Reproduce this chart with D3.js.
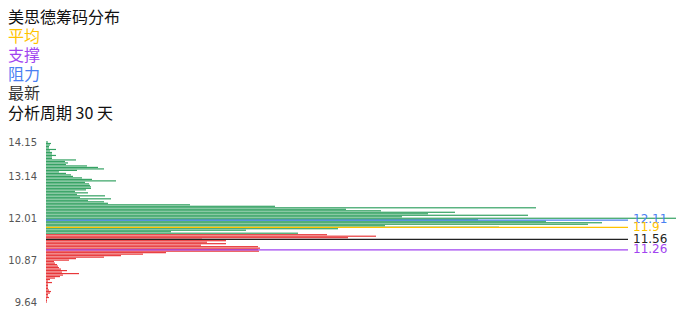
<!DOCTYPE html>
<html>
<head>
<meta charset="utf-8">
<script src="https://cdn.jsdelivr.net/npm/d3@7"></script>
<style>
  html, body { margin: 0; padding: 0; background: #fff; }
  svg { display: block; }
</style>
</head>
<body>
<div id="chart"></div>
<script>
// price levels, bottom to top
var prices = [
  9.64, 9.68, 9.73, 9.77, 9.82, 9.86, 9.90, 9.95, 9.99, 10.04,
  10.08, 10.12, 10.17, 10.21, 10.26, 10.30, 10.34, 10.39, 10.43, 10.47,
  10.52, 10.56, 10.61, 10.65, 10.69, 10.74, 10.78, 10.83, 10.87, 10.91,
  10.95, 10.99, 11.03, 11.07, 11.11, 11.16, 11.20, 11.24, 11.28, 11.32,
  11.36, 11.40, 11.44, 11.48, 11.52, 11.56, 11.60, 11.64, 11.68, 11.73,
  11.77, 11.81, 11.85, 11.89, 11.93, 11.97, 12.01, 12.05, 12.09, 12.13,
  12.17, 12.21, 12.25, 12.29, 12.33, 12.37, 12.41, 12.45, 12.49, 12.53,
  12.57, 12.62, 12.66, 12.70, 12.74, 12.78, 12.82, 12.86, 12.90, 12.94,
  12.98, 13.02, 13.06, 13.10, 13.14, 13.18, 13.23, 13.27, 13.32, 13.36,
  13.40, 13.45, 13.49, 13.54, 13.58, 13.62, 13.67, 13.71, 13.75, 13.80,
  13.84, 13.89, 13.93, 13.97, 14.02, 14.06, 14.11, 14.15
];

// chip share at each price level (%), same order
var chips = [
  0.01, 0.01, 0.01, 0.03, 0.02, 0.02, 0.04, 0.05, 0.03, 0.02,
  0.02, 0.02, 0.02, 0.06, 0.02, 0.04, 0.09, 0.14, 0.17, 0.33,
  0.16, 0.21, 0.15, 0.13, 0.12, 0.11, 0.09, 0.08, 0.23, 0.30,
  0.58, 0.75, 0.97, 1.20, 2.13, 2.12, 2.14, 2.12, 1.55, 1.80,
  1.61, 1.80, 1.56, 3.02, 3.30, 2.81, 2.52, 1.25, 2.00, 2.92,
  4.53, 3.39, 5.42, 5.56, 5.00, 4.32, 6.30, 3.56, 4.82, 3.82,
  4.09, 3.35, 3.00, 4.90, 2.29, 1.44, 0.62, 0.58, 0.42, 0.65,
  0.34, 0.59, 0.31, 0.42, 0.29, 0.40, 0.45, 0.45, 0.44, 0.43,
  0.39, 0.70, 0.46, 0.36, 0.27, 0.25, 0.20, 0.13, 0.31, 0.58,
  0.52, 0.41, 0.20, 0.22, 0.19, 0.30, 0.06, 0.06, 0.10, 0.06,
  0.06, 0.04, 0.10, 0.03, 0.03, 0.04, 0.05, 0.02
];

var tickLabels = [14.15, 13.14, 12.01, 10.87, 9.64];

var titleLines = ['美思德筹码分布', '平均', '支撑', '阻力', '最新', '分析周期 30 天'];
var titleColors = ['#111', '#ffc300', '#a144f0', '#4a80f2', '#333', '#111'];

// reference lines: name, price
var markNames = ['阻力', '平均', '最新', '支撑'];
var markPrices = [12.11, 11.9, 11.56, 11.26];
var markColors = ['#4a80f2', '#ffc300', '#222', '#a144f0'];

var latest = 11.56;

var width = 696, height = 320;
var svg = d3.select('#chart').append('svg')
  .attr('width', width)
  .attr('height', height);

// title block
svg.append('g').selectAll('text')
  .data(titleLines)
  .enter().append('text')
  .attr('x', 8)
  .attr('y', function (d, i) { return 22.5 + i * 19.2; })
  .attr('fill', function (d, i) { return titleColors[i]; })
  .style('font-family', '"Noto Sans CJK SC", "Noto Sans", sans-serif')
  .style('font-size', '16px')
  .text(function (d) { return d; });

// scales
var y = d3.scalePoint()
  .domain(prices)
  .range([302, 142]);

var step = y.step();

var x = d3.scaleLinear()
  .domain([0, d3.max(chips)])
  .range([46, 676]);

// marker lines sit on their own price scale
var yMark = d3.scaleLinear()
  .domain([9.77, 14.34])
  .range([302, 142]);

var rows = prices.map(function (p, i) { return { price: p, value: chips[i] }; });

// bars
svg.append('g').selectAll('rect')
  .data(rows)
  .enter().append('rect')
  .attr('x', x(0))
  .attr('y', function (d) { return y(d.price) - step * 0.4; })
  .attr('height', step * 0.8)
  .attr('width', function (d) { return x(d.value) - x(0); })
  .attr('fill', function (d) { return d.price <= latest ? '#e8383a' : '#35a263'; });

// y axis
var axis = svg.append('g')
  .attr('transform', 'translate(' + x(0) + ',0)')
  .call(d3.axisLeft(y).tickValues(tickLabels).tickSize(0).tickPadding(9)
    .tickFormat(function (d) { return d.toFixed(2); }));
axis.select('.domain').remove();
axis.selectAll('text')
  .attr('fill', '#555')
  .style('font-family', '"DejaVu Sans", sans-serif')
  .style('font-size', '10px');

// marker lines + labels
var marks = svg.append('g').selectAll('g')
  .data(markPrices)
  .enter().append('g');

marks.append('line')
  .attr('x1', x(0))
  .attr('x2', 628)
  .attr('y1', function (d) { return yMark(d); })
  .attr('y2', function (d) { return yMark(d); })
  .attr('stroke', function (d, i) { return markColors[i]; })
  .attr('stroke-width', 1.2);

marks.append('text')
  .attr('x', 633)
  .attr('y', function (d) { return yMark(d) - 1; })
  .attr('dy', '0.35em')
  .attr('fill', function (d, i) { return markColors[i]; })
  .style('font-family', '"DejaVu Sans", sans-serif')
  .style('font-size', '12px')
  .text(function (d) { return d; });
</script>
</body>
</html>
